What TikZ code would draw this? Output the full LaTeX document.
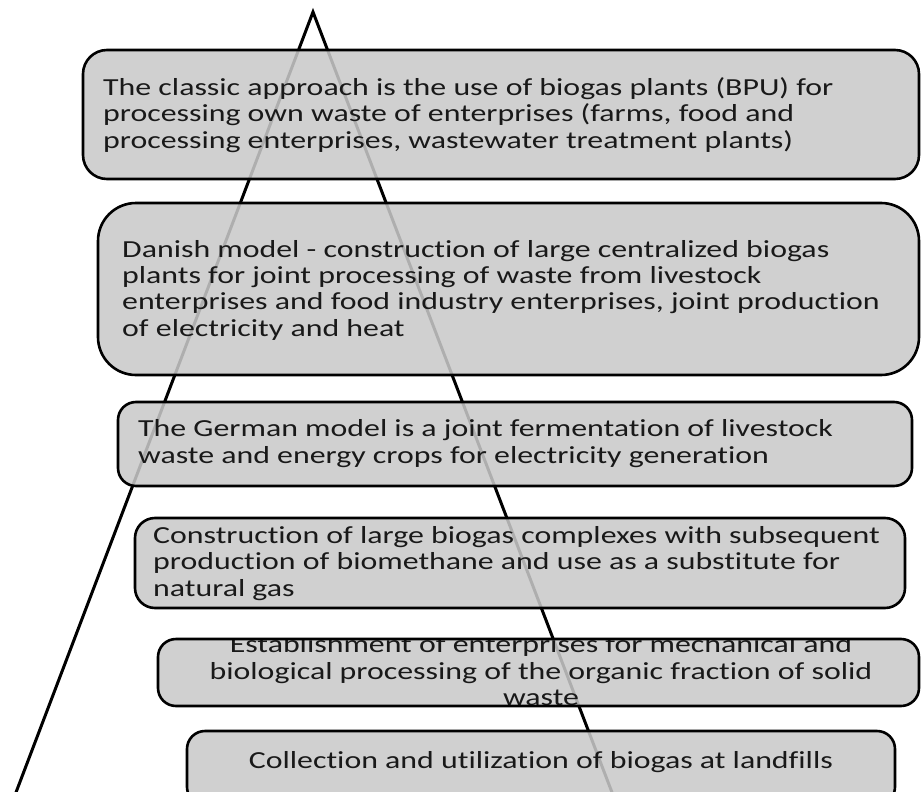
\documentclass[tikz,border=0pt]{standalone}
\usepackage{fontspec}
\setmainfont{Carlito}[FakeStretch=1.30, Ligatures={NoCommon}]
\begin{document}
\begin{tikzpicture}[x=1pt,y=-1pt,
  box/.style={draw=black, line width=2.6pt, fill={rgb,255:red,201;green,201;blue,201}, fill opacity=0.87, text opacity=1, rounded corners=#1},
  box/.default=20pt,
  boxline/.style={draw=black, line width=2.6pt, rounded corners=#1},
  txt/.style={inner sep=0pt, font=\fontsize{24.5}{26.3}\selectfont, text=black!90},
  edge/.style={line width=3pt, black}]
\useasboundingbox (0,0) rectangle (921,792);
% triangle
\coordinate (apex) at (313,12);
\coordinate (bl) at (15,795);
\coordinate (br) at (613,795);
\draw[edge] (bl) -- (apex) -- (br);
% boxes
\draw[box=24pt] (83,50) rectangle (919,179);
\draw[box=38pt] (98,203) rectangle (919,375);
\draw[box=18pt] (118,402) rectangle (912,486);
\draw[box=20pt] (135,518) rectangle (905,608);
% text
\node[txt, anchor=base west, align=left] (t1) at (103,148) {The classic approach is the use of biogas plants (BPU) for\\processing own waste of enterprises (farms, food and\\processing enterprises, wastewater treatment plants)};
\node[txt, anchor=base west, align=left] (t2) at (122,336) {Danish model - construction of large centralized biogas\\plants for joint processing of waste from livestock\\enterprises and food industry enterprises, joint production\\of electricity and heat};
\node[txt, anchor=base west, align=left] (t3) at (138,463) {The German model is a joint fermentation of livestock\\waste and energy crops for electricity generation};
\node[txt, anchor=base west, align=left] (t4) at (153,596) {Construction of large biogas complexes with subsequent\\production of biomethane and use as a substitute for\\natural gas};
% box 5: fill, clipped text, border
\fill[box=18pt, draw=none] (158,639) rectangle (919,706);
\begin{scope}
\clip (140,638) rectangle (921,792);
\node[txt, anchor=base, align=center] (t5) at (541,705.5) {Establishment of enterprises for mechanical and\\biological processing of the organic fraction of solid\\waste};
\end{scope}
\draw[boxline=18pt] (158,639) rectangle (919,706);
% box 6
\draw[box=18pt] (187,731) rectangle (895,805);
\node[txt, anchor=base] (t6) at (541,768) {Collection and utilization of biogas at landfills};
\end{tikzpicture}
\end{document}
